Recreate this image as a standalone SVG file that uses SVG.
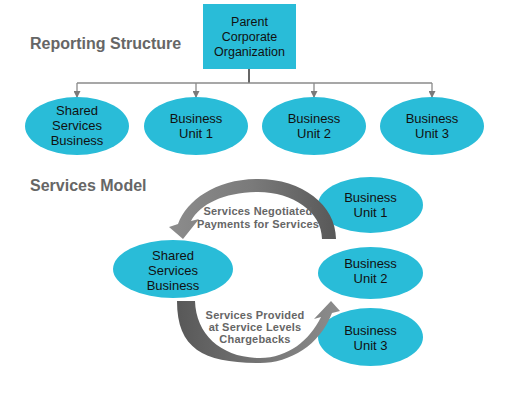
<svg xmlns="http://www.w3.org/2000/svg" width="525" height="408" viewBox="0 0 525 408">
<defs>
<style>
.node{fill:#29BCD8;}
.t{font-family:"Liberation Sans",Arial,sans-serif;font-size:13px;fill:#111;text-anchor:middle;}
.h{font-family:"Liberation Sans",Arial,sans-serif;font-size:16px;font-weight:bold;fill:#666;}
.lbl{font-family:"Liberation Sans",Arial,sans-serif;font-size:11px;font-weight:bold;fill:#666;text-anchor:middle;letter-spacing:0.2px;}
.conn{stroke:#8a8a8a;stroke-width:1.3;fill:none;}
</style>
<marker id="ah" markerUnits="userSpaceOnUse" markerWidth="7" markerHeight="7" refX="6" refY="3.5" orient="auto">
<path d="M0,0 L7,3.5 L0,7 z" fill="#7a7a7a"/>
</marker>
<linearGradient id="gUp" x1="169" y1="0" x2="336" y2="0" gradientUnits="userSpaceOnUse">
<stop offset="0" stop-color="#8c8c8c"/>
<stop offset="0.5" stop-color="#7a7a7a"/>
<stop offset="1" stop-color="#585858"/>
</linearGradient>
<linearGradient id="gLo" x1="177" y1="0" x2="340" y2="0" gradientUnits="userSpaceOnUse">
<stop offset="0" stop-color="#585858"/>
<stop offset="0.5" stop-color="#747474"/>
<stop offset="1" stop-color="#8c8c8c"/>
</linearGradient>
</defs>
<rect width="525" height="408" fill="#fff"/>

<text class="h" x="30" y="49">Reporting Structure</text>
<text class="h" x="30" y="191">Services Model</text>

<g id="connectors">
<line x1="249" y1="69" x2="249" y2="83" stroke="#666" stroke-width="2"/>
<line class="conn" x1="77" y1="83" x2="432" y2="83"/>
<line class="conn" x1="77" y1="83" x2="77" y2="97" marker-end="url(#ah)"/>
<line class="conn" x1="196" y1="83" x2="196" y2="97" marker-end="url(#ah)"/>
<line class="conn" x1="314" y1="83" x2="314" y2="97" marker-end="url(#ah)"/>
<line class="conn" x1="432" y1="83" x2="432" y2="97" marker-end="url(#ah)"/>
</g>

<g id="parent">
<rect class="node" x="203" y="4" width="93" height="65"/>
<text class="t" x="249.5" y="26" style="font-size:12.5px">Parent</text>
<text class="t" x="249.5" y="41" style="font-size:12.5px">Corporate</text>
<text class="t" x="249.5" y="56" style="font-size:12.5px">Organization</text>
</g>
<g id="shared-top">
<ellipse class="node" cx="77" cy="126" rx="52" ry="29"/>
<text class="t" x="77" y="115">Shared</text>
<text class="t" x="77" y="130">Services</text>
<text class="t" x="77" y="145">Business</text>
</g>
<g id="bu1-top">
<ellipse class="node" cx="196" cy="126" rx="52" ry="29"/>
<text class="t" x="196" y="123">Business</text>
<text class="t" x="196" y="138">Unit 1</text>
</g>
<g id="bu2-top">
<ellipse class="node" cx="314" cy="126" rx="52" ry="29"/>
<text class="t" x="314" y="123">Business</text>
<text class="t" x="314" y="138">Unit 2</text>
</g>
<g id="bu3-top">
<ellipse class="node" cx="432" cy="126" rx="52" ry="29"/>
<text class="t" x="432" y="123">Business</text>
<text class="t" x="432" y="138">Unit 3</text>
</g>

<g id="shared-model">
<ellipse class="node" cx="173" cy="269" rx="60" ry="29"/>
<text class="t" x="173" y="260">Shared</text>
<text class="t" x="173" y="275">Services</text>
<text class="t" x="173" y="290">Business</text>
</g>
<g id="bu1-model">
<ellipse class="node" cx="370.5" cy="205" rx="52.5" ry="28"/>
<text class="t" x="370.5" y="202">Business</text>
<text class="t" x="370.5" y="217">Unit 1</text>
</g>
<g id="bu2-model">
<ellipse class="node" cx="370.5" cy="273" rx="52.5" ry="26"/>
<text class="t" x="370.5" y="268">Business</text>
<text class="t" x="370.5" y="283">Unit 2</text>
</g>
<g id="bu3-model">
<ellipse class="node" cx="370.5" cy="337" rx="52.5" ry="29"/>
<text class="t" x="370.5" y="335">Business</text>
<text class="t" x="370.5" y="350">Unit 3</text>
</g>

<g id="cycle-arrows">
<path d="M336,239 C336,205 302,179 258,179 C216,179 187,200 178,224 L169,227 L183,239 L199,219 L191,221 C200,204 225,192 258,192 C293,192 322,212 322,239 Z" fill="url(#gUp)"/>
<path d="M177,301 C177,350 205,363 260,363 C290,363 320,345 332,313 L340,311 L331,301 L314,319 L321,317 C310,340 288,358 260,358 C222,358 196,335 195,301 Z" fill="url(#gLo)"/>
<text class="lbl" x="258" y="215">Services Negotiated</text>
<text class="lbl" x="258" y="228">Payments for Services</text>
<text class="lbl" x="255" y="319">Services Provided</text>
<text class="lbl" x="255" y="331">at Service Levels</text>
<text class="lbl" x="255" y="343">Chargebacks</text>
</g>
</svg>
